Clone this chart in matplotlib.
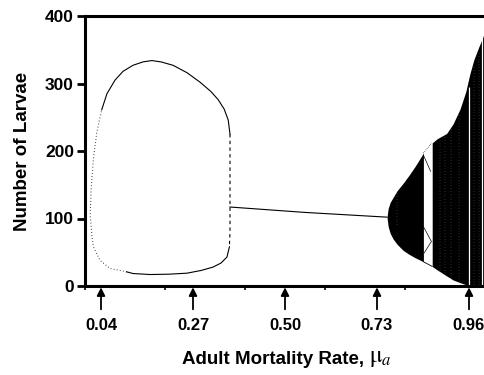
import matplotlib

matplotlib.use("Agg")
import matplotlib.pyplot as plt

plt.rcParams["font.family"] = ["Liberation Sans", "DejaVu Sans"]
plt.rcParams["mathtext.fontset"] = "stix"

# invariant loop (Hopf circle), traced clockwise from lower left
loop_left_mu = [0.104, 0.0625, 0.0375, 0.021, 0.0175, 0.013, 0.015, 0.0208, 0.0292, 0.0417]
loop_left_L = [21, 26, 38, 58, 73, 105, 140, 187, 227, 261]
loop_top_mu = [0.0417, 0.055, 0.075, 0.095, 0.12, 0.145, 0.167, 0.19, 0.22, 0.255,
               0.2875, 0.315, 0.333, 0.348, 0.358, 0.3625]
loop_top_L = [261, 285, 305, 318, 327, 332, 334, 332, 327, 316, 302, 288, 276, 262, 246, 225]
loop_right_mu = [0.3625, 0.3625, 0.3625, 0.361]
loop_right_L = [225, 150, 80, 58]
loop_bot_mu = [0.361, 0.355, 0.34, 0.32, 0.29, 0.255, 0.21, 0.1625, 0.12, 0.104]
loop_bot_L = [58, 43, 34, 28, 23, 19, 17.5, 17, 18.5, 21]

# stable equilibrium
eq_mu = [0.3625, 0.55, 0.755]
eq_L = [117, 109, 102]

# first chaotic lobe
lobe_mu = [0.755, 0.758, 0.763, 0.77, 0.78, 0.795, 0.81, 0.825, 0.846]
lobe_hi = [102, 115, 124, 131, 141, 152, 164, 177, 197]
lobe_lo = [102, 88, 78, 70, 62, 53, 47, 42, 36]

# periodic window orbits
win_a_mu, win_a_L = [0.846, 0.867], [197, 212]
win_b_mu, win_b_L = [0.846, 0.864], [194, 170]
win_c_mu, win_c_L = [0.846, 0.866, 0.848], [88, 66, 49]
win_d_mu, win_d_L = [0.846, 0.868], [36, 29]

# main chaotic region
chaos_mu = [0.868, 0.88, 0.904, 0.92, 0.9375, 0.952, 0.9625, 0.972, 0.985, 0.995, 1.0]
chaos_hi = [212, 218, 226, 240, 262, 288, 315, 335, 355, 369, 380]
chaos_lo = [29, 24, 15, 9, 5, 2, 0.5, 0, 0, 0, 0]

# thin gaps inside chaos
gap_mu = [0.9605, 0.9935]
gap_top = [295, 368]
speck_mu = [0.781, 0.888, 0.9, 0.915, 0.935, 0.972, 0.985]
speck_top = [140, 215, 222, 235, 255, 325, 345]
speck_bot = [90, 22, 15, 10, 6, 2, 2]

arrow_mu = [0.04, 0.27, 0.50, 0.73, 0.96]
arrow_labels = ["0.04", "0.27", "0.50", "0.73", "0.96"]
yticks = [0, 100, 200, 300, 400]

fig = plt.figure(figsize=(4.84, 3.75), dpi=100)
ax = fig.add_axes([85 / 484, 89 / 375, 400 / 484, 270 / 375])

ax.plot(loop_left_mu, loop_left_L, color="k", lw=0.8, ls=(0, (0.6, 2.2)))
ax.plot(loop_top_mu, loop_top_L, color="k", lw=0.8)
ax.plot(loop_right_mu, loop_right_L, color="k", lw=0.8, ls=(0, (3, 3)))
ax.plot(loop_bot_mu, loop_bot_L, color="k", lw=0.8)
ax.plot(eq_mu, eq_L, color="k", lw=0.8)

ax.fill_between(lobe_mu, lobe_lo, lobe_hi, color="k", lw=0)
ax.fill_between(chaos_mu, chaos_lo, chaos_hi, color="k", lw=0)
ax.plot(win_a_mu, win_a_L, color="k", lw=0.5, ls=":")
ax.plot(win_b_mu, win_b_L, color="k", lw=0.5)
ax.plot(win_c_mu, win_c_L, color="k", lw=0.5)
ax.plot(win_d_mu, win_d_L, color="k", lw=0.6)

ax.vlines(gap_mu, 0, gap_top, color="w", lw=0.9)
ax.vlines(speck_mu, speck_bot, speck_top, color="w", lw=0.35, linestyles=(0, (0.8, 5)))

ax.set_xlim(0, 1)
ax.set_ylim(0, 400)
ax.set_xticks([0, 0.2, 0.4, 0.6, 0.8])
ax.set_xticklabels([])
ax.tick_params(axis="x", direction="out", length=3, width=1.2)
ax.set_yticks(yticks)
ax.set_yticklabels([str(v) for v in yticks], fontsize=12.5, fontweight="bold")
ax.tick_params(axis="y", direction="out", length=6, width=2, pad=2)

for side in ["left", "bottom", "top"]:
    ax.spines[side].set_linewidth(2.2)
ax.spines["right"].set_visible(False)

for m, lab in zip(arrow_mu, arrow_labels):
    ax.annotate(
        lab,
        xy=(m, -2),
        xytext=(m, -58),
        textcoords="data",
        annotation_clip=False,
        ha="center",
        va="center",
        fontsize=12,
        fontweight="bold",
        arrowprops=dict(arrowstyle="-|>", color="k", lw=1.3, shrinkA=4, shrinkB=0, mutation_scale=12),
    )

ax.set_ylabel("Number of Larvae", fontsize=13.5, fontweight="bold", labelpad=10)

# x label: bold words, then a larger mu with italic subscript a
xl = fig.text(182 / 484, 1 - 359 / 375, "Adult Mortality Rate, ",
              ha="left", va="center", fontsize=13.5, fontweight="bold")
renderer = fig.canvas.get_renderer()
bb = xl.get_window_extent(renderer=renderer)
fig.text(bb.x1 / fig.bbox.width, 1 - 358 / 375, r"$\mathrm{μ}_{a}$",
         ha="left", va="center", fontsize=17)

fig.savefig("out.png", dpi=100)
